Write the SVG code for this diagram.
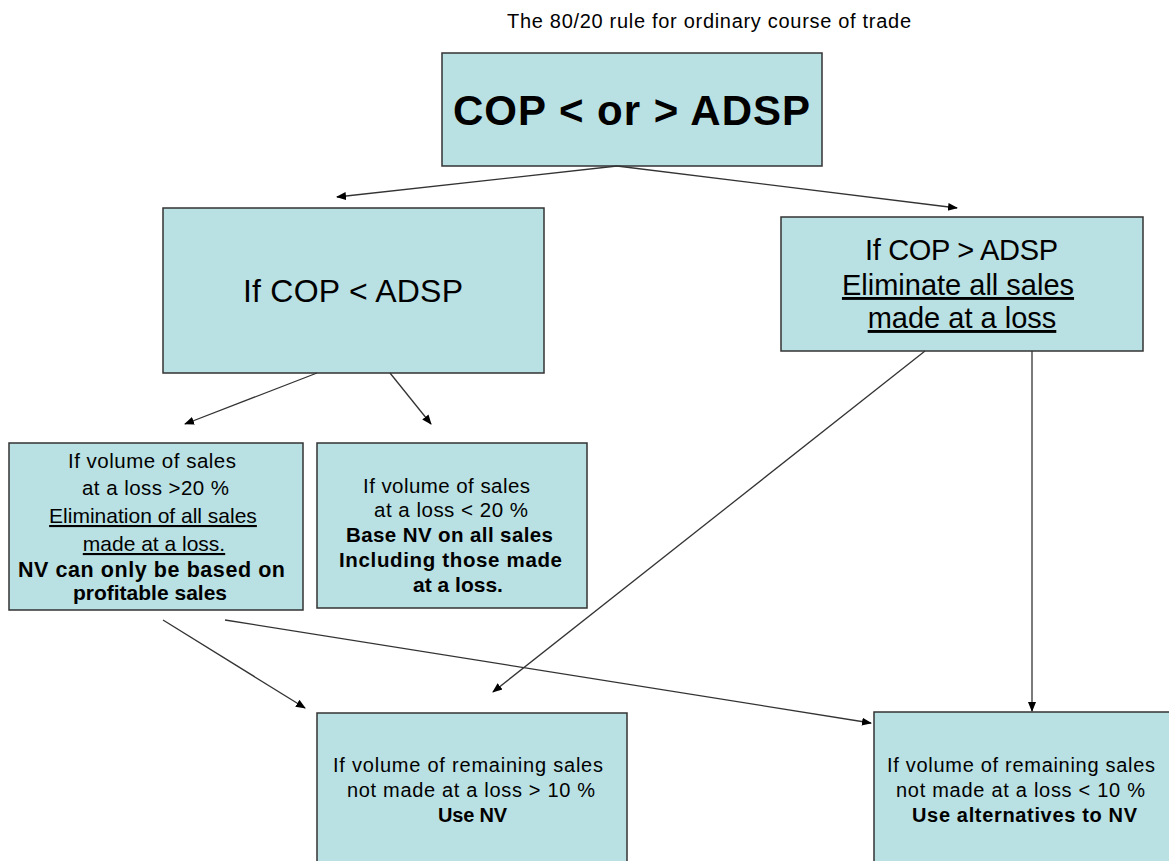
<svg xmlns="http://www.w3.org/2000/svg" width="1169" height="861" viewBox="0 0 1169 861">
  <style>
    .box { fill: #b9e0e3; stroke: #333; stroke-width: 1.5; }
    .t { font-family: "Liberation Sans", Arial, sans-serif; fill: #000; }
    .c { text-anchor: middle; }
    .b { font-weight: bold; }
    .u { text-decoration: underline; }
    .edge { stroke: #333; stroke-width: 1.3; fill: none; marker-end: url(#arrow); }
  </style>
  <defs>
    <marker id="arrow" viewBox="0 0 10 10" refX="9" refY="5" markerWidth="10" markerHeight="10" markerUnits="userSpaceOnUse" orient="auto">
      <path d="M0,1 L10,5 L0,9 z" fill="#000"/>
    </marker>
  </defs>

  <rect width="1169" height="861" fill="#fff"/>

  <text class="t" x="507" y="28" font-size="20" textLength="404" lengthAdjust="spacing">The 80/20 rule for ordinary course of trade</text>

  <g id="root">
    <rect class="box" x="442" y="53" width="380" height="113"/>
    <text class="t b" x="453" y="125" font-size="42" textLength="357" lengthAdjust="spacing">COP &lt; or &gt; ADSP</text>
  </g>

  <g id="cop-lt">
    <rect class="box" x="163" y="208" width="381" height="165"/>
    <text class="t" x="243" y="302" font-size="32" textLength="220" lengthAdjust="spacing">If COP &lt; ADSP</text>
  </g>

  <g id="cop-gt">
    <rect class="box" x="781" y="217" width="362" height="134"/>
    <text class="t" x="865" y="260" font-size="29" textLength="193" lengthAdjust="spacing">If COP &gt; ADSP</text>
    <text class="t c u" x="958" y="295" font-size="29">Eliminate all sales</text>
    <text class="t c u" x="962" y="328" font-size="29">made at a loss</text>
  </g>

  <g id="loss-gt20">
    <rect class="box" x="9" y="443" width="294" height="167"/>
    <text class="t" x="68" y="468" font-size="20.5" textLength="168" lengthAdjust="spacing">If volume of sales</text>
    <text class="t" x="82" y="495" font-size="20.5" textLength="147" lengthAdjust="spacing">at a loss &gt;20 %</text>
    <text class="t c u" x="153" y="523" font-size="21">Elimination of all sales</text>
    <text class="t c u" x="154" y="551" font-size="21">made at a loss.</text>
    <text class="t b" x="18" y="577" font-size="21.5" textLength="267" lengthAdjust="spacing">NV can only be based on</text>
    <text class="t b c" x="150" y="600" font-size="21">profitable sales</text>
  </g>

  <g id="loss-lt20">
    <rect class="box" x="317" y="443" width="270" height="165"/>
    <text class="t" x="363" y="493" font-size="20.5" textLength="167" lengthAdjust="spacing">If volume of sales</text>
    <text class="t" x="374" y="517" font-size="20.5" textLength="154" lengthAdjust="spacing">at a loss &lt; 20 %</text>
    <text class="t b" x="346" y="542" font-size="20.5" textLength="207" lengthAdjust="spacing">Base NV on all sales</text>
    <text class="t b" x="339" y="567" font-size="20.5" textLength="223" lengthAdjust="spacing">Including those made</text>
    <text class="t b c" x="458" y="592" font-size="21">at a loss.</text>
  </g>

  <g id="remain-gt10">
    <rect class="box" x="317" y="713" width="310" height="160"/>
    <text class="t" x="333" y="772" font-size="20" textLength="270" lengthAdjust="spacing">If volume of remaining sales</text>
    <text class="t" x="347" y="797" font-size="20" textLength="248" lengthAdjust="spacing">not made at a loss &gt; 10 %</text>
    <text class="t b" x="438" y="822" font-size="20" textLength="69" lengthAdjust="spacing">Use NV</text>
  </g>

  <g id="remain-lt10">
    <rect class="box" x="874" y="712" width="310" height="160"/>
    <text class="t" x="887" y="772" font-size="20" textLength="268" lengthAdjust="spacing">If volume of remaining sales</text>
    <text class="t" x="896" y="797" font-size="20" textLength="249" lengthAdjust="spacing">not made at a loss &lt; 10 %</text>
    <text class="t b" x="912" y="822" font-size="20" textLength="225" lengthAdjust="spacing">Use alternatives to NV</text>
  </g>

  <g id="connectors">
    <line class="edge" x1="617" y1="166" x2="337" y2="197"/>
    <line class="edge" x1="617" y1="166" x2="957" y2="208"/>
    <line class="edge" x1="317" y1="373" x2="185" y2="424"/>
    <line class="edge" x1="390" y1="373" x2="431" y2="424"/>
    <line class="edge" x1="163" y1="620" x2="305" y2="708"/>
    <line class="edge" x1="225" y1="620" x2="871" y2="723"/>
    <line class="edge" x1="925" y1="351" x2="493" y2="692"/>
    <line class="edge" x1="1032" y1="351" x2="1032" y2="711"/>
  </g>
</svg>
